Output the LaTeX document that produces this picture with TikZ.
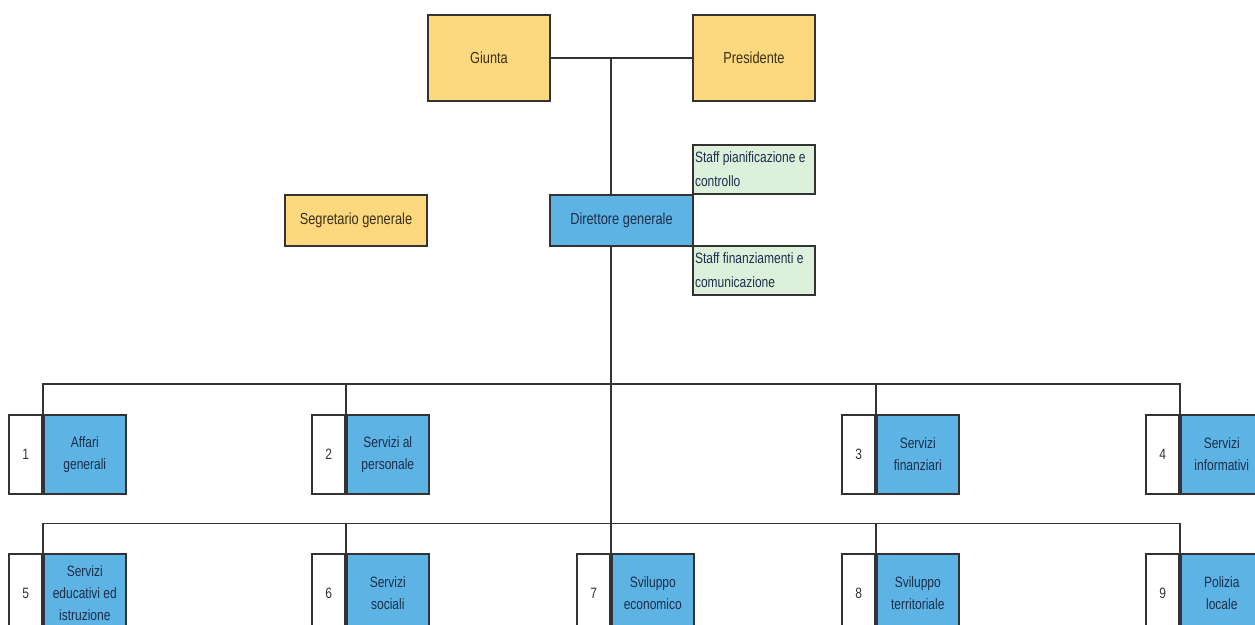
\documentclass[tikz,border=0pt]{standalone}
\usepackage{fontspec}
\setmainfont{Liberation Sans}[FakeStretch=0.8]
\pgfdeclarelayer{bottom}
\pgfdeclarelayer{background}
\pgfsetlayers{bottom,background,main}
\definecolor{yfill}{HTML}{FCD97F}
\definecolor{bfill}{HTML}{5DB3E3}
\definecolor{gfill}{HTML}{DDF0DC}
\definecolor{edge}{HTML}{333333}
\definecolor{ytext}{HTML}{3B2E12}
\definecolor{btext}{HTML}{1C2E4A}
\tikzset{
  base/.style={draw=edge, line width=1.6pt, rectangle, inner sep=2pt,
    execute at begin node={\spaceskip=0pt\xspaceskip=0pt\relax}},
  ybox/.style={base, fill=yfill, text=ytext, font=\fontsize{16}{19}\selectfont},
  dbox/.style={base, fill=bfill, text=btext, font=\fontsize{16}{19}\selectfont},
  gbox/.style={base, fill=gfill, text=btext, minimum width=122pt, minimum height=49pt,
    text width=118pt, align=left, font=\fontsize{15}{24}\selectfont},
  numbox/.style={base, fill=white, text=black!80, minimum width=33pt, minimum height=79pt,
    font=\fontsize{15}{17}\selectfont, anchor=east},
  namebox/.style={base, fill=bfill, text=btext, minimum width=82pt, minimum height=79pt,
    align=center, font=\fontsize{15}{22}\selectfont, anchor=west},
  conn/.style={draw=edge, line width=1.6pt}
}
\begin{document}
\begin{tikzpicture}[x=1pt,y=-1pt]
\begin{pgfonlayer}{bottom}
\fill[white] (0,0) rectangle (1255,624);
\end{pgfonlayer}
\useasboundingbox (0,0) rectangle (1255,624);
% top
\node[ybox, minimum width=122pt, minimum height=86pt] (giunta) at (489,58) {Giunta};
\node[ybox, minimum width=122pt, minimum height=86pt] (pres) at (754,58) {Presidente};
\node[ybox, minimum width=142pt, minimum height=51pt] (segr) at (356,220.5) {Segretario generale};
\node[dbox, minimum width=143pt, minimum height=51pt] (dir) at (621.5,220.5) {Direttore generale};
\node[gbox] (staff1) at (754,169.5) {Staff pianificazione e\\controllo};
\node[gbox] (staff2) at (754,270.5) {Staff finanziamenti e\\comunicazione};
% row 1
\node[numbox] (c1) at (43,454.5) {1};
\node[namebox] (n1) at (43,454.5) {Affari\\generali};
\node[numbox] (c2) at (346,454.5) {2};
\node[namebox] (n2) at (346,454.5) {Servizi al\\personale};
\node[numbox] (c3) at (876,454.5) {3};
\node[namebox] (n3) at (876,454.5) {Servizi\\finanziari};
\node[numbox] (c4) at (1180,454.5) {4};
\node[namebox] (n4) at (1180,454.5) {Servizi\\informativi};
% row 2
\node[numbox] (c5) at (43,593.5) {5};
\node[namebox] (n5) at (43,593.5) {Servizi\\educativi ed\\istruzione};
\node[numbox] (c6) at (346,593.5) {6};
\node[namebox] (n6) at (346,593.5) {Servizi\\sociali};
\node[numbox] (c7) at (611,593.5) {7};
\node[namebox] (n7) at (611,593.5) {Sviluppo\\economico};
\node[numbox] (c8) at (876,593.5) {8};
\node[namebox] (n8) at (876,593.5) {Sviluppo\\territoriale};
\node[numbox] (c9) at (1180,593.5) {9};
\node[namebox] (n9) at (1180,593.5) {Polizia\\locale};
% connectors
\coordinate (j) at (611,58);
\coordinate (bus1) at (611,384);
\coordinate (bus2) at (611,523.5);
\begin{pgfonlayer}{background}
\draw[conn] (giunta.east) -- (pres.west);
\draw[conn] (j) -- (n7.north west);
\draw[conn] (n1.north west) |- (bus1) -| (n4.north west);
\draw[conn] (n2.north west) -- (n2.north west |- bus1);
\draw[conn] (n3.north west) -- (n3.north west |- bus1);
\draw[conn] (n5.north west) |- (bus2) -| (n9.north west);
\draw[conn] (n6.north west) -- (n6.north west |- bus2);
\draw[conn] (n8.north west) -- (n8.north west |- bus2);
\end{pgfonlayer}
\end{tikzpicture}
\end{document}
